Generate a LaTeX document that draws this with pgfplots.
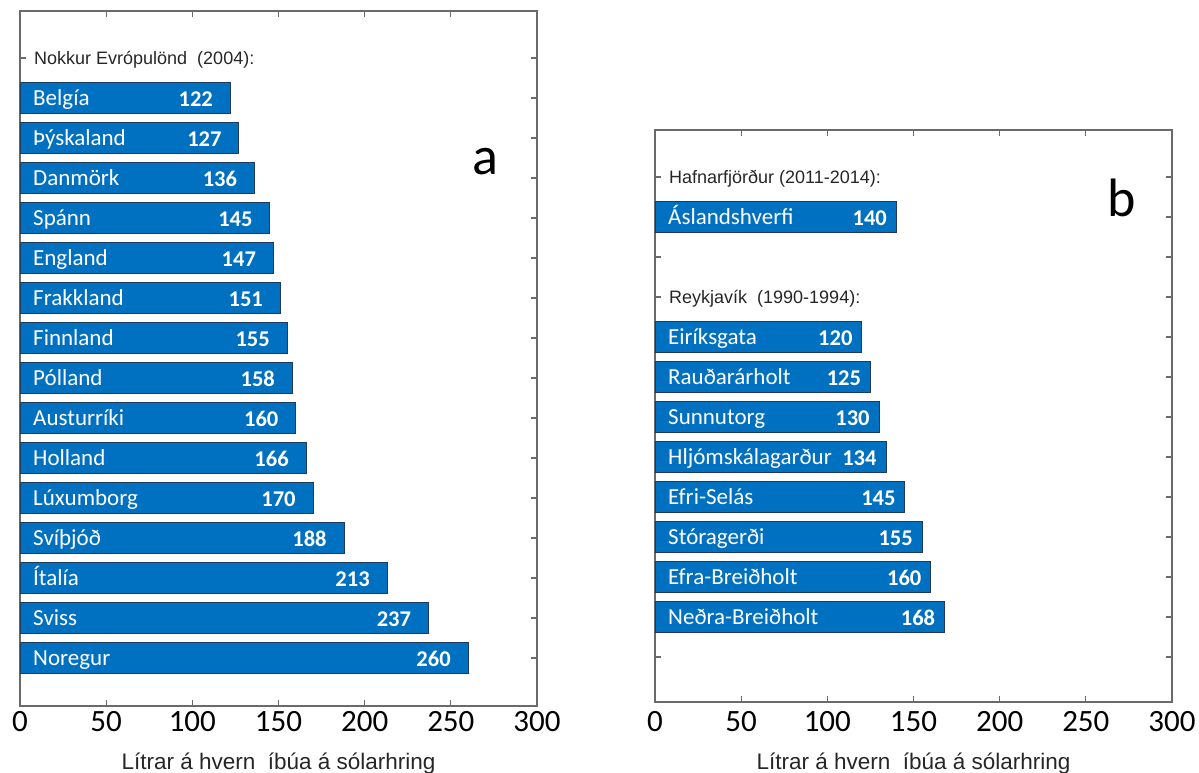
\documentclass[border=0pt]{standalone}
\usepackage{pgfplots}
\pgfplotsset{compat=1.18}
\usepackage{fontspec}
\setmainfont{Carlito}
\newfontfamily\arial{Liberation Sans}
\definecolor{barblue}{HTML}{0070C0}
\definecolor{bardraw}{HTML}{1F3A5A}
\definecolor{axgray}{HTML}{6A6A6A}
\definecolor{titlegray}{HTML}{262626}
\newcommand\nm[2]{\node[anchor=west, xshift=13pt, text=white, font=\fontsize{23}{23}\selectfont, inner sep=0pt, text height=14.5pt, text depth=0pt] at (axis cs:0,#1) {#2};}
\newcommand\ttl[2]{\node[anchor=west, xshift=14pt, text=titlegray, font=\arial\fontsize{18}{18}\selectfont, inner sep=0pt, text height=12.9pt, text depth=0pt] at (axis cs:0,#1) {#2};}
\begin{document}
\begin{tikzpicture}[x=1pt,y=1pt]
\path[use as bounding box] (0,0) rectangle (1199,773);
\pgfplotsset{
  panel/.style={
    scale only axis, width=517pt, xmin=0, xmax=300, xtick={0,50,...,300},
    y dir=reverse, axis line style={axgray, line width=1.2pt},
    every tick/.style={axgray, line width=1.2pt}, major tick length=6pt,
    yticklabels={},
    /pgf/number format/assume math mode=true,
    xticklabel style={font=\fontsize{31}{31}\selectfont, anchor=base},
    xlabel={Lítrar á hvern\ \ íbúa á sólarhring},
    xlabel style={font=\arial\fontsize{22.5}{22.5}\selectfont, text=titlegray, anchor=base, at={(axis description cs:0.5,0)}},
    point meta=x,
    nodes near coords,
    every node near coord/.append style={anchor=east, inner sep=0pt, text height=14.2pt, text depth=0pt, font=\bfseries\fontsize{22.5}{22.5}\selectfont, text=white, yshift=-1pt},
    clip=false,
  },
  bars/.style={xbar, bar width=0.78, fill=barblue, draw=bardraw, line width=0.8pt},
}
\begin{axis}[panel, at={(20pt,67pt)}, anchor=south west, height=695pt,
  ymin=-0.175, ymax=17.2, ytick={1,...,16},
  xticklabel style={yshift=-25pt}, xlabel style={yshift=-63pt},
  every node near coord/.append style={xshift=-17pt}]
\addplot[bars] coordinates {(122,2) (127,3) (136,4) (145,5) (147,6) (151,7) (155,8) (158,9) (160,10) (166,11) (170,12) (188,13) (213,14) (237,15) (260,16)};
\ttl{1}{Nokkur Evrópulönd\ \ (2004):}
\nm{2}{Belgía}
\nm{3}{Þýskaland}
\nm{4}{Danmörk}
\nm{5}{Spánn}
\nm{6}{England}
\nm{7}{Frakkland}
\nm{8}{Finnland}
\nm{9}{Pólland}
\nm{10}{Austurríki}
\nm{11}{Holland}
\nm{12}{Lúxumborg}
\nm{13}{Svíþjóð}
\nm{14}{Ítalía}
\nm{15}{Sviss}
\nm{16}{Noregur}
\node[anchor=base, font=\fontsize{54}{54}\selectfont, inner sep=0pt] at (axis cs:270,3.925) {a};
\end{axis}
\begin{axis}[panel, at={(655pt,71pt)}, anchor=south west, height=572pt,
  ymin=-0.175, ymax=14.125, ytick={1,...,13},
  xticklabel style={yshift=-29pt}, xlabel style={yshift=-67pt},
  every node near coord/.append style={xshift=-9pt}]
\addplot[bars] coordinates {(140,2) (120,5) (125,6) (130,7) (134,8) (145,9) (155,10) (160,11) (168,12)};
\ttl{1}{Hafnarfjörður (2011-2014):}
\ttl{4}{Reykjavík\ \ (1990-1994):}
\nm{2}{Áslandshverfi}
\nm{5}{Eiríksgata}
\nm{6}{Rauðarárholt}
\nm{7}{Sunnutorg}
\nm{8}{Hljómskálagarður}
\nm{9}{Efri-Selás}
\nm{10}{Stóragerði}
\nm{11}{Efra-Breiðholt}
\nm{12}{Neðra-Breiðholt}
\node[anchor=base, font=\fontsize{54}{54}\selectfont, inner sep=0pt] at (axis cs:271,2.0) {b};
\end{axis}
\end{tikzpicture}
\end{document}
